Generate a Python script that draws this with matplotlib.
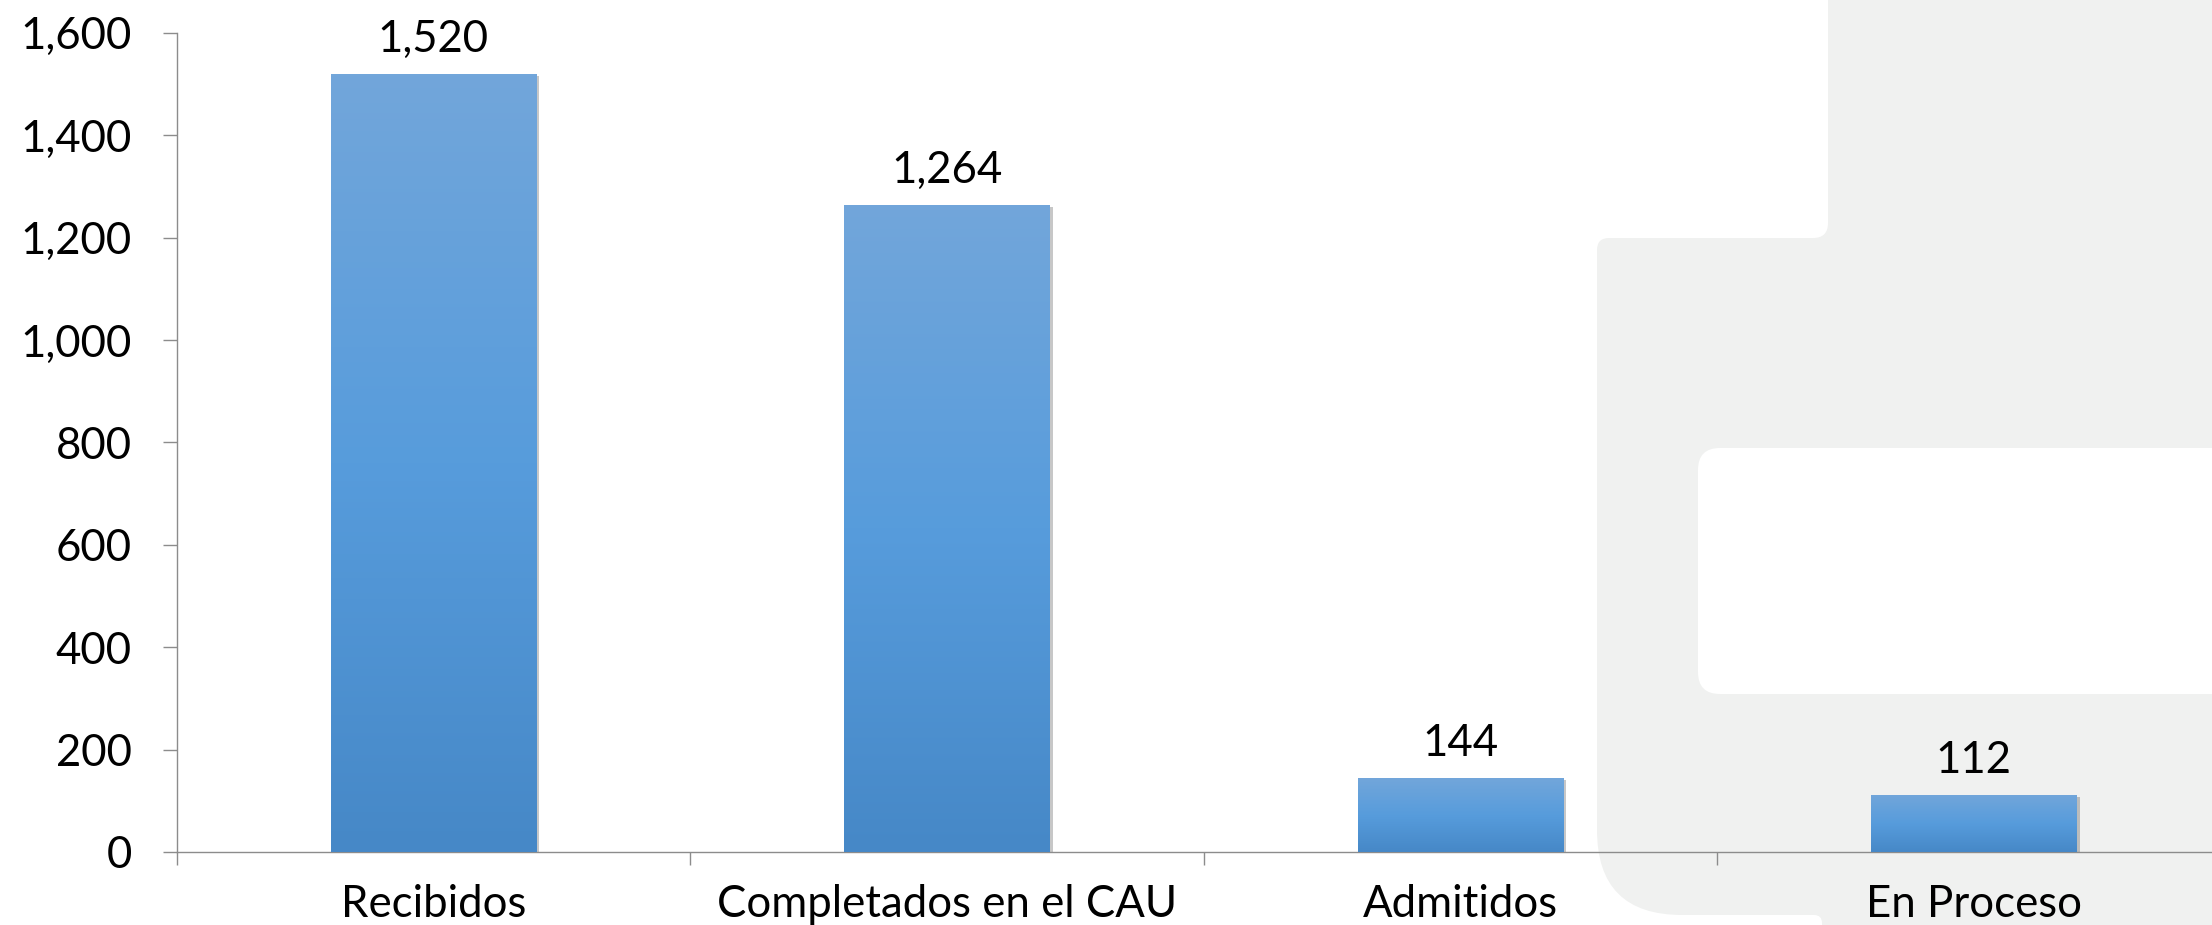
import matplotlib
matplotlib.use('Agg')
import matplotlib.pyplot as plt
import numpy as np
from matplotlib.path import Path
from matplotlib.patches import PathPatch, FancyBboxPatch
from matplotlib.colors import LinearSegmentedColormap
from matplotlib.ticker import FuncFormatter
import matplotlib.patheffects as pe

# data
categories = ['Recibidos', 'Completados en el CAU', 'Admitidos', 'En Proceso']
values = [1520, 1264, 144, 112]
y_ticks = [0, 200, 400, 600, 800, 1000, 1200, 1400, 1600]

plt.rcParams['font.family'] = ['Lato', 'DejaVu Sans']
FS = 31.5

W, H = 2212, 925
fig = plt.figure(figsize=(W / 100, H / 100), dpi=100)

# background decoration (light gray slide shape), pixel coordinates
bg = fig.add_axes([0, 0, 1, 1], zorder=0)
bg.set_xlim(0, W)
bg.set_ylim(H, 0)
bg.axis('off')


def rounded_path(pts):
    """polygon with quadratic-rounded corners; pts = (x, y, radius)"""
    verts, codes = [], []
    n = len(pts)
    for i, (x, y, r) in enumerate(pts):
        v = np.array([x, y], float)
        if r == 0:
            verts.append(v)
            codes.append(Path.LINETO)
            continue
        p0 = np.array(pts[i - 1][:2], float)
        p2 = np.array(pts[(i + 1) % n][:2], float)
        a = v + (p0 - v) / np.linalg.norm(p0 - v) * r
        b = v + (p2 - v) / np.linalg.norm(p2 - v) * r
        verts += [a, v, b]
        codes += [Path.LINETO, Path.CURVE3, Path.CURVE3]
    codes[0] = Path.MOVETO
    verts.append(verts[0])
    codes.append(Path.CLOSEPOLY)
    return Path(verts, codes)


shape = [(1828, -10, 0), (2300, -10, 0), (2300, 1000, 0), (1822, 1000, 0),
         (1822, 915, 8), (1597, 915, 85), (1597, 238, 12), (1828, 238, 15)]
bg.add_patch(PathPatch(rounded_path(shape), facecolor='#f0f1f0', edgecolor='none'))
bg.add_patch(FancyBboxPatch((1698, 448), 700, 246,
                            boxstyle='round,pad=0,rounding_size=22',
                            facecolor='white', edgecolor='none'))

# main chart
ax = fig.add_axes([176.5 / W, (H - 852) / H, 2054 / W, 819.3 / H], zorder=1)
ax.patch.set_alpha(0)

x = np.arange(len(categories))
cmap = LinearSegmentedColormap.from_list(
    'bar', [(0, '#4688c7'), (0.5, '#579cdc'), (1, '#72a6da')])
grad = np.linspace(0, 1, 256).reshape(-1, 1)

bars = ax.bar(x, values, width=0.4, color='#579cdc', zorder=2)
for bar, v in zip(bars, values):
    bar.set_path_effects([pe.SimplePatchShadow(offset=(2.5, -1.5),
                                               shadow_rgbFace='k', alpha=0.22),
                          pe.Normal()])
    x0 = bar.get_x()
    im = ax.imshow(grad, extent=[x0, x0 + bar.get_width(), 0, v],
                   origin='lower', aspect='auto', cmap=cmap, zorder=3)
    im.set_clip_path(bar)
    ax.annotate(f'{v:,}', (bar.get_x() + bar.get_width() / 2, v),
                xytext=(0, 10), textcoords='offset points',
                ha='center', va='bottom', fontsize=FS)

ax.set_xlim(-0.5, len(categories) - 0.5)
ax.set_ylim(0, 1600)

ax.set_xticks(x)
ax.set_xticklabels(categories)
ax.set_xticks(np.arange(-0.5, len(categories), 1), minor=True)
ax.tick_params(axis='x', which='major', length=0, pad=23, labelsize=FS)
ax.tick_params(axis='x', which='minor', length=9.5, width=1,
               color='#8c8c8c', direction='out')

ax.set_yticks(y_ticks)
ax.yaxis.set_major_formatter(FuncFormatter(lambda v, p: f'{int(v):,}'))
ax.tick_params(axis='y', length=10, width=1, color='#8c8c8c',
               pad=22, labelsize=FS)

for s in ['top', 'right']:
    ax.spines[s].set_visible(False)
for s in ['left', 'bottom']:
    ax.spines[s].set_color('#8c8c8c')
    ax.spines[s].set_linewidth(1)

fig.savefig('out.png', dpi=100)
